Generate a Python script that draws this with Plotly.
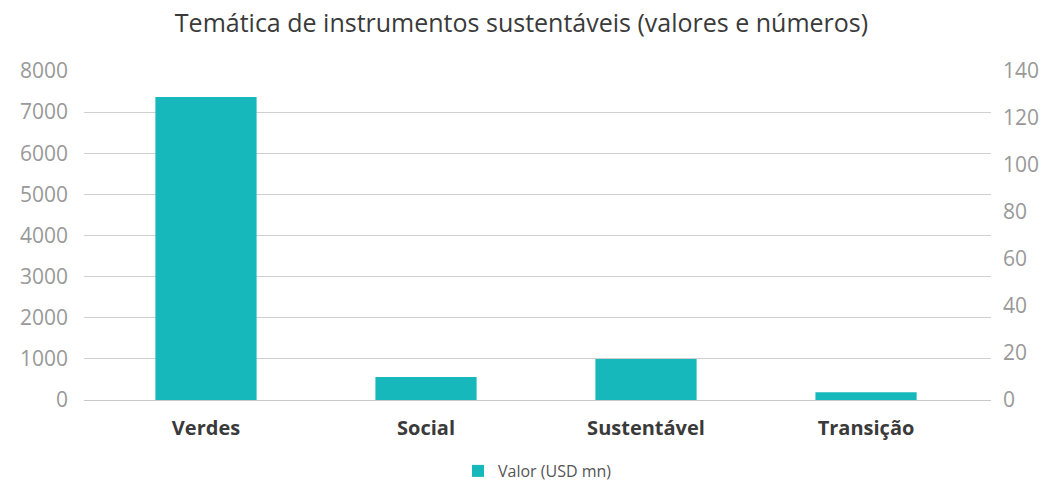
import plotly.graph_objects as go

# Temáticas e valores (USD mn)
categorias = ["Verdes", "Social", "Sustentável", "Transição"]
valores = [7370, 560, 1000, 190]

titulo = "Temática de instrumentos sustentáveis (valores e números)"
cor_barra = "#17b8bc"
fonte = "'Open Sans', sans-serif"

fig = go.Figure()
fig.add_trace(go.Bar(
    x=categorias, y=valores, name="Valor (USD mn)",
    marker=dict(color=cor_barra, line=dict(width=0)),
    width=0.46,
))
# Eixo secundário (número de instrumentos)
fig.add_trace(go.Scatter(
    x=categorias, y=[None] * len(categorias), yaxis="y2",
    mode="markers", showlegend=False, hoverinfo="skip",
))

fig.update_layout(
    width=1043, height=488,
    margin=dict(l=84, r=52, t=71, b=88, autoexpand=False),
    paper_bgcolor="white", plot_bgcolor="white",
    font=dict(family=fonte, color="#999999"),
    title=dict(text=titulo, x=0.5, xanchor="center", y=0.953, yanchor="middle",
               font=dict(size=25, color="#3a3a3a", family=fonte)),
    xaxis=dict(
        range=[-0.5545, 3.568], showgrid=False, showline=False, ticks="",
        tickfont=dict(size=20, color="#3a3a3a", family=fonte, weight="bold"),
        ticklabelstandoff=14, automargin=False,
    ),
    yaxis=dict(
        range=[0, 8000], dtick=1000, showgrid=True, gridcolor="#d0d0d0", gridwidth=1,
        zeroline=True, zerolinecolor="#c8c8c8", zerolinewidth=1,
        tickfont=dict(size=21, color="#999999"), ticklabelstandoff=15,
        showline=False, ticks="", automargin=False,
    ),
    yaxis2=dict(
        range=[0, 140], dtick=20, overlaying="y", side="right", showgrid=False,
        zeroline=False, tickfont=dict(size=21, color="#999999"), ticklabelstandoff=11,
        showline=False, ticks="", automargin=False,
    ),
    legend=dict(orientation="h", x=0.5, xanchor="center", yref="container",
                y=0.0, yanchor="bottom", font=dict(size=16, color="#555555")),
    showlegend=True,
)

fig.write_html("out.html")
